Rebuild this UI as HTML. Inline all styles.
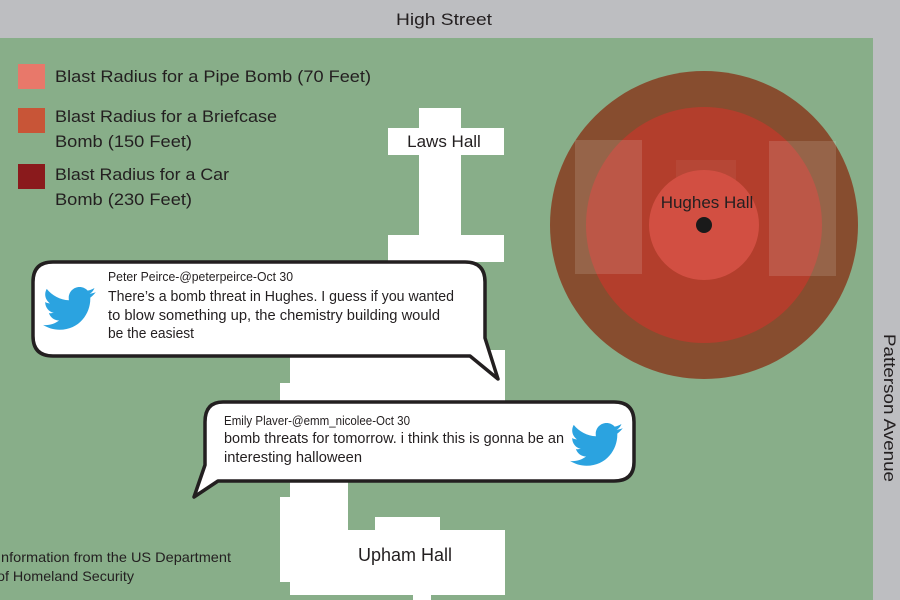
<!DOCTYPE html>
<html><head><meta charset="utf-8"><style>
html,body{margin:0;padding:0;width:900px;height:600px;overflow:hidden;background:#bdbec1}
svg{display:block}
text{font-family:"Liberation Sans",sans-serif;fill:#231f20}
</style></head><body>
<svg width="900" height="600" viewBox="0 0 900 600">
<rect x="0" y="0" width="900" height="600" fill="#bdbec1"/>
<rect x="0" y="38" width="873" height="562" fill="#88ae89"/>
<text x="444" y="25" font-size="17" text-anchor="middle" textLength="96" lengthAdjust="spacingAndGlyphs">High Street</text>
<text transform="translate(884,408) rotate(90)" font-size="17" text-anchor="middle" textLength="148" lengthAdjust="spacingAndGlyphs">Patterson Avenue</text>

<!-- legend -->
<rect x="18" y="64" width="27" height="25" fill="#e8786a"/>
<rect x="18" y="108" width="27" height="25" fill="#c85537"/>
<rect x="18" y="164" width="27" height="25" fill="#8a1a1c"/>
<g font-size="17">
<text x="55" y="82" textLength="316" lengthAdjust="spacingAndGlyphs">Blast Radius for a Pipe Bomb (70 Feet)</text>
<text x="55" y="122" textLength="222" lengthAdjust="spacingAndGlyphs">Blast Radius for a Briefcase</text>
<text x="55" y="147" textLength="137" lengthAdjust="spacingAndGlyphs">Bomb (150 Feet)</text>
<text x="55" y="180" textLength="174" lengthAdjust="spacingAndGlyphs">Blast Radius for a Car</text>
<text x="55" y="205" textLength="137" lengthAdjust="spacingAndGlyphs">Bomb (230 Feet)</text>
</g>

<!-- buildings -->
<g fill="#fff">
<rect x="419" y="108" width="42" height="160"/>
<rect x="388" y="128" width="116" height="27"/>
<rect x="388" y="235" width="116" height="27"/>
<rect x="290" y="350" width="215" height="60"/>
<rect x="280" y="383" width="220" height="27"/>
<rect x="290" y="470" width="58" height="40"/>
<rect x="280" y="497" width="68" height="85"/>
<rect x="290" y="530" width="215" height="65"/>
<rect x="375" y="517" width="65" height="15"/>
<rect x="413" y="590" width="18" height="10"/>
</g>
<text x="444" y="147" font-size="17" text-anchor="middle">Laws Hall</text>
<text x="405" y="561" font-size="18" text-anchor="middle">Upham Hall</text>

<!-- blast circles -->
<circle cx="704" cy="225" r="154" fill="#874d2f"/>
<circle cx="704" cy="225" r="118" fill="#b33e2c"/>
<g fill="#ffffff" opacity="0.13">
<rect x="575" y="140" width="67" height="134"/>
<rect x="769" y="141" width="67" height="135"/>
</g>
<g fill="#ffffff" opacity="0.05">
<rect x="676" y="160" width="60" height="110"/>
</g>
<circle cx="704" cy="225" r="55" fill="#d24f42"/>
<text x="707" y="208" font-size="17" text-anchor="middle">Hughes Hall</text>
<circle cx="704" cy="225" r="8" fill="#1a1a1a"/>

<!-- bubble 1 -->
<path d="M53 262 H465 Q485 262 485 282 V338 L498 379 L470 356 H53 Q33 356 33 336 V282 Q33 262 53 262 Z" fill="#fff" stroke="#231f20" stroke-width="3.5" stroke-linejoin="round"/>
<g font-size="12.5"><text x="108" y="281" textLength="185" lengthAdjust="spacingAndGlyphs">Peter Peirce-@peterpeirce-Oct 30</text></g>
<g font-size="14.5">
<text x="108" y="301" textLength="346" lengthAdjust="spacingAndGlyphs">There’s a bomb threat in Hughes.  I guess if you wanted</text>
<text x="108" y="320" textLength="332" lengthAdjust="spacingAndGlyphs">to blow something up, the chemistry building would</text>
<text x="108" y="338" textLength="86" lengthAdjust="spacingAndGlyphs">be the easiest</text>
</g>

<!-- bubble 2 -->
<path d="M223 402 H614 Q634 402 634 422 V462 Q634 481 614 481 H218 L194 497 L205 465 V422 Q205 402 223 402 Z" fill="#fff" stroke="#231f20" stroke-width="3.5" stroke-linejoin="round"/>
<text x="224" y="425" font-size="12.5" textLength="186" lengthAdjust="spacingAndGlyphs">Emily Plaver-@emm_nicolee-Oct 30</text>
<g font-size="14.5">
<text x="224" y="443" textLength="340" lengthAdjust="spacingAndGlyphs">bomb threats for tomorrow. i think this is gonna be an</text>
<text x="224" y="462" textLength="138" lengthAdjust="spacingAndGlyphs">interesting halloween</text>
</g>

<!-- twitter birds -->
<defs>
<path id="bird" d="M24 4.6c-.9.4-1.8.6-2.8.8 1-.6 1.8-1.6 2.2-2.7-1 .6-2 1-3.1 1.2C19.3 2.9 18 2.300 16.6 2.3c-2.7 0-4.9 2.2-4.9 4.9 0 .4 0 .8.1 1.1C7.7 8.1 4.1 6.1 1.7 3.1c-.4.7-.7 1.6-.7 2.5 0 1.7.9 3.2 2.2 4.1-.8 0-1.6-.2-2.2-.6v.1c0 2.4 1.7 4.4 3.9 4.8-.4.1-.8.2-1.300.2-.3 0-.6 0-.9-.1.6 2 2.4 3.4 4.6 3.4-1.7 1.3-3.8 2.1-6.1 2.1-.4 0-.8 0-1.2-.1 2.2 1.4 4.8 2.2 7.5 2.2 9.1 0 14-7.5 14-14v-.6c1-.7 1.8-1.6 2.5-2.5z"/>
</defs>
<use href="#bird" transform="translate(43,282) scale(2.2)" fill="#2ba3e0"/>
<use href="#bird" transform="translate(570,418) scale(2.2)" fill="#2ba3e0"/>

<g font-size="14">
<text x="-3" y="562" textLength="234" lengthAdjust="spacingAndGlyphs">Information from the US Department</text>
<text x="-3" y="581" textLength="137" lengthAdjust="spacingAndGlyphs">of Homeland Security</text>
</g>
</svg>
</body></html>
